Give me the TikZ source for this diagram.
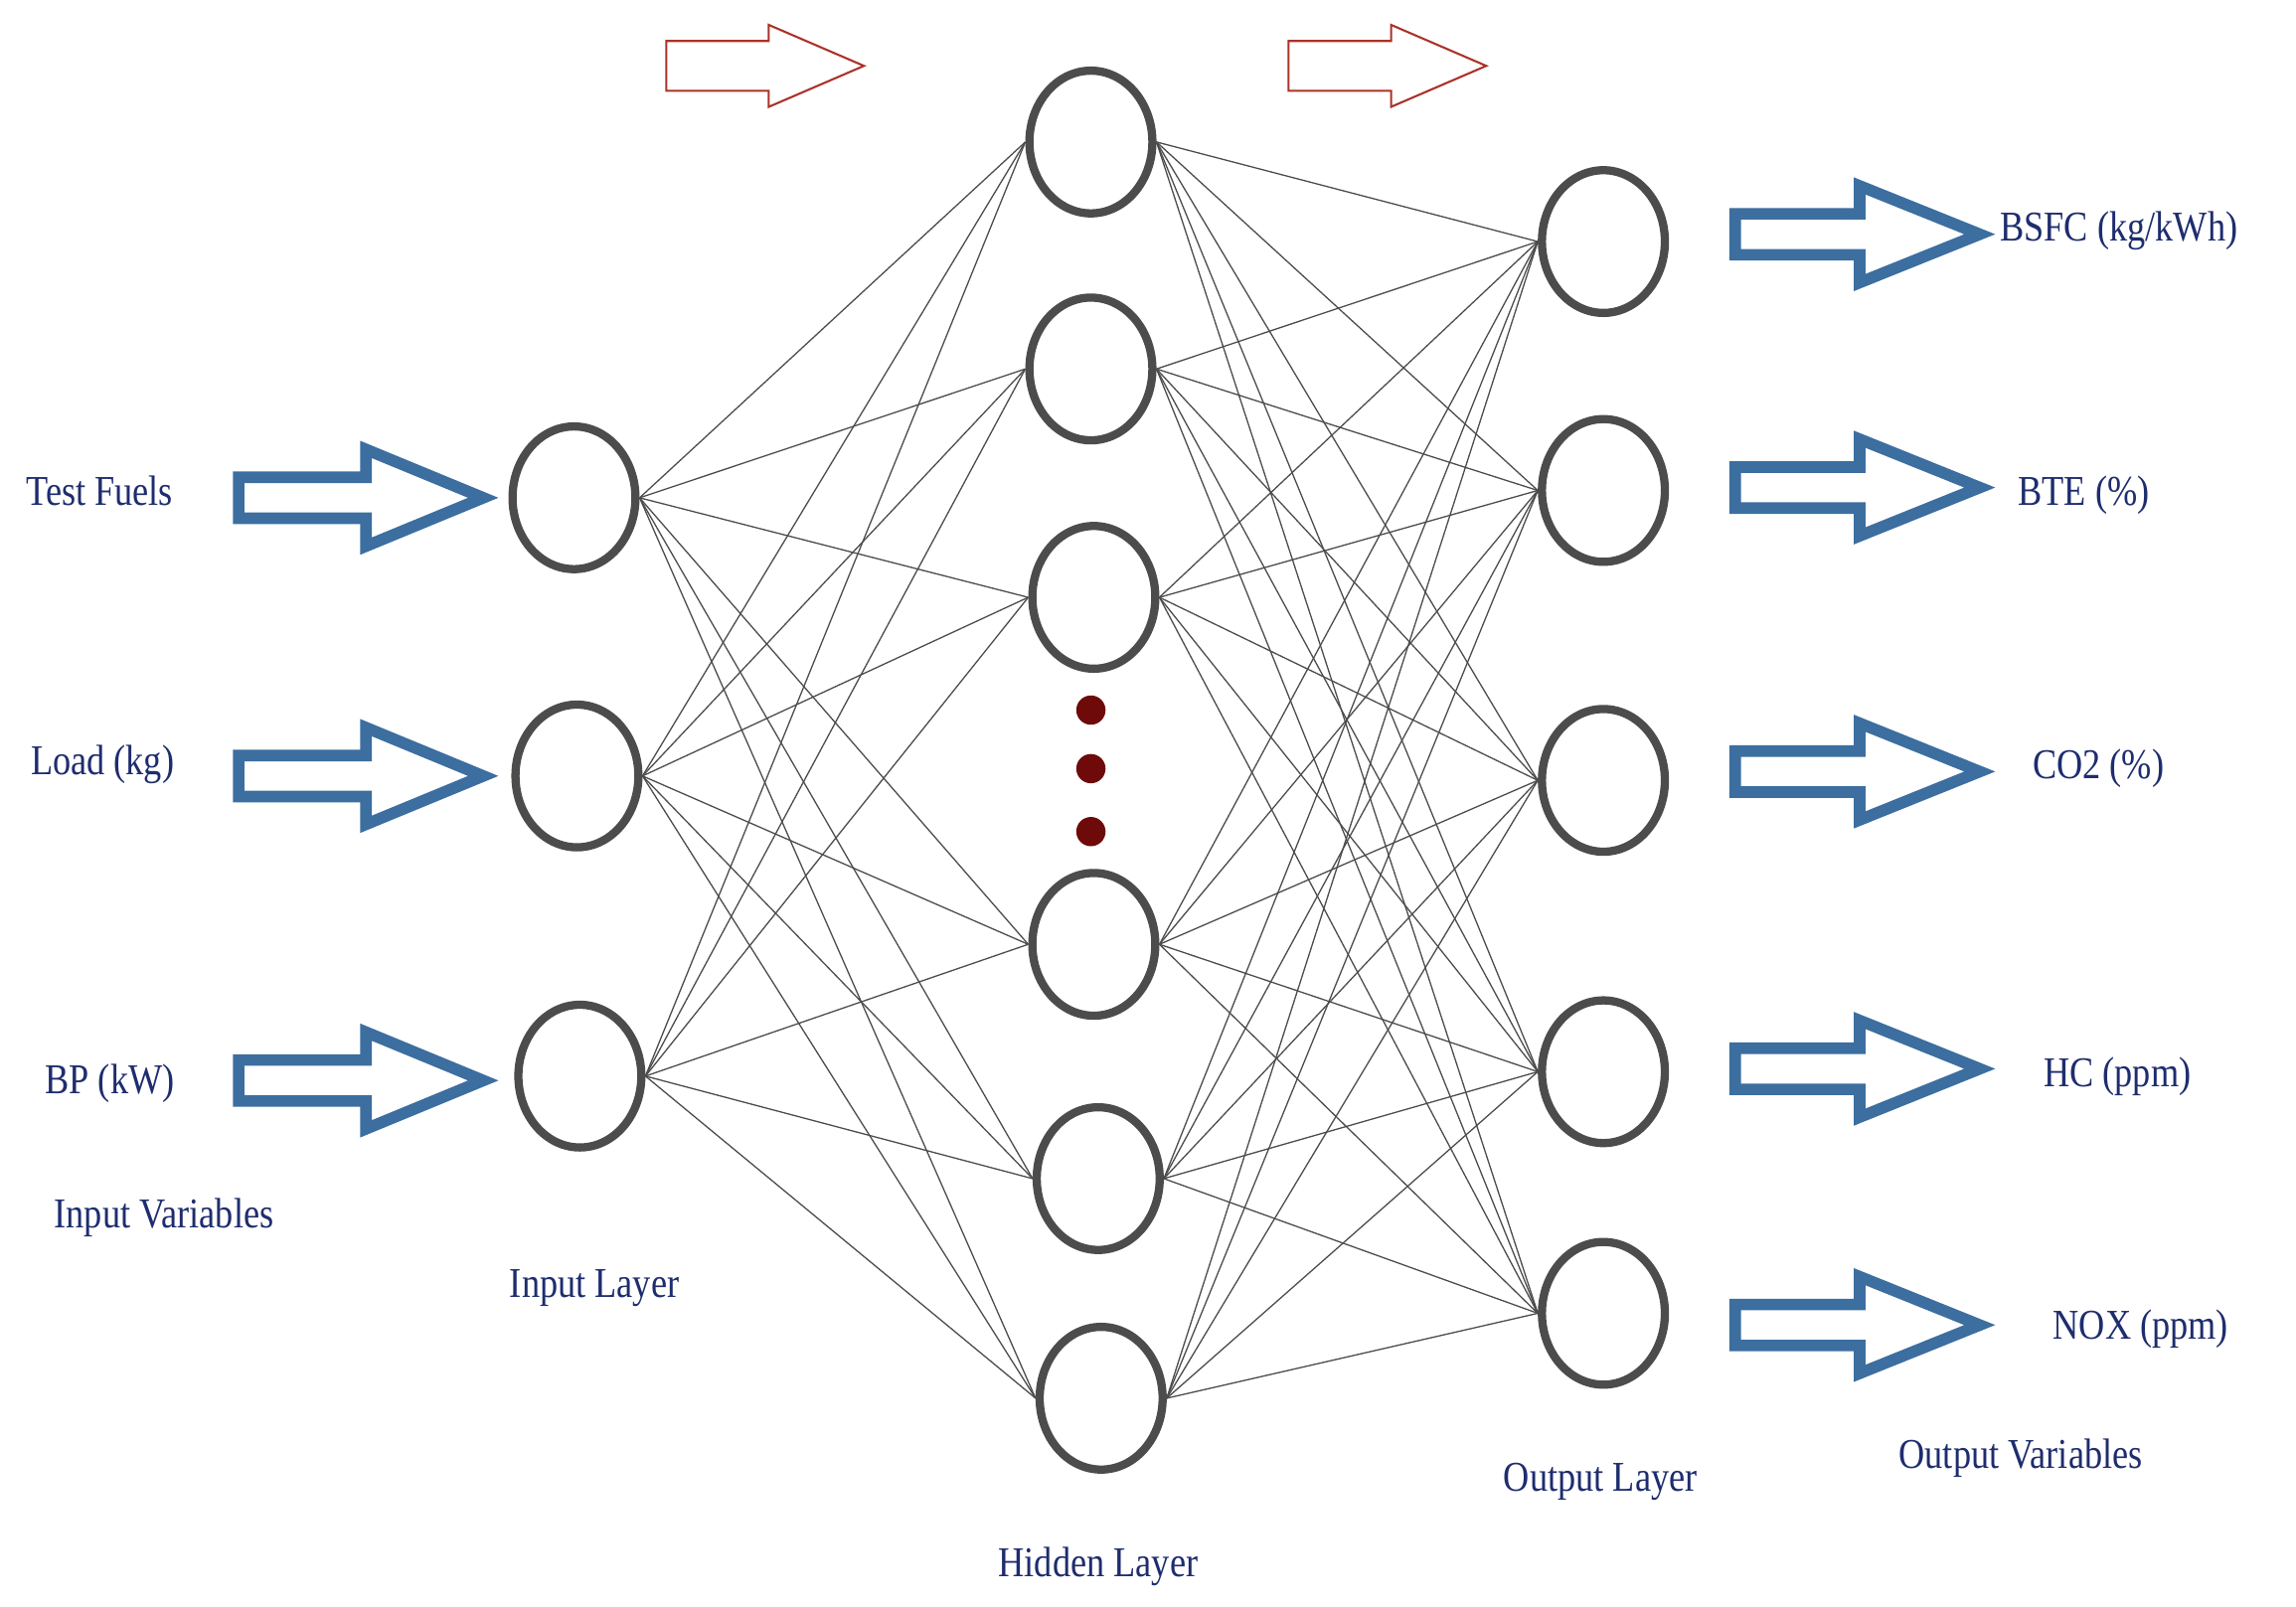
\documentclass[tikz,border=0pt]{standalone}
\usepackage{fontspec}
\setmainfont{Liberation Serif}
\usetikzlibrary{shapes.geometric}
\definecolor{navy}{RGB}{30,45,110}
\definecolor{ablue}{RGB}{60,110,160}
\definecolor{ared}{RGB}{170,50,40}
\definecolor{dred}{RGB}{110,10,10}
\newcommand\barr[7]{%
  \draw[#7] (#1,#3-#4) -- (#6,#3-#4) -- (#6,#3-#5) -- (#2,#3) -- (#6,#3+#5) -- (#6,#3+#4) -- (#1,#3+#4) -- cycle;}
\begin{document}
\begin{tikzpicture}[x=0.02cm,y=-0.02cm,
  neu/.style={ellipse,draw=black!70,line width=3.2pt,minimum width=1.68cm,minimum height=1.95cm,inner sep=0},
  lab/.style={text=navy,font=\fontsize{16.5}{18}\selectfont,xscale=0.85},
  ed/.style={draw=black!70,line width=0.5pt}]
\useasboundingbox (0,0) rectangle (1568,1097);
\node[neu] (i1) at (392,340) {};
\node[neu] (i2) at (394,530) {};
\node[neu] (i3) at (396,735) {};
\node[neu] (h1) at (745,97) {};
\node[neu] (h2) at (745,252) {};
\node[neu] (h3) at (747,408) {};
\node[neu] (h4) at (747,645) {};
\node[neu] (h5) at (750,805) {};
\node[neu] (h6) at (752,955) {};
\node[neu] (o1) at (1095,165) {};
\node[neu] (o2) at (1095,335) {};
\node[neu] (o3) at (1095,533) {};
\node[neu] (o4) at (1095,732) {};
\node[neu] (o5) at (1095,897) {};
\foreach \a in {i1,i2,i3}\foreach \b in {h1,h2,h3,h4,h5,h6} \draw[ed] (\a.east) -- (\b.west);
\foreach \a in {h1,h2,h3,h4,h5,h6}\foreach \b in {o1,o2,o3,o4,o5} \draw[ed] (\a.east) -- (\b.west);
\foreach \y in {485,525,568} \fill[dred] (745,\y) circle (10);
\foreach \y in {340,530,738} \barr{163}{330}{\y}{14}{33}{250}{draw=ablue,line width=4.5pt};
\foreach \y in {160,333,527,730,905} \barr{1185}{1352}{\y}{14}{33}{1270}{draw=ablue,line width=4.5pt};
\barr{455}{590}{45}{17}{28}{525}{draw=ared,line width=0.8pt};
\barr{880}{1015}{45}{17}{28}{950}{draw=ared,line width=0.8pt};
\node[lab] (t1) at (68,335) {Test Fuels};
\node[lab] (t2) at (70,522) {Load (kg)};
\node[lab] (t3) at (75,740) {BP (kW)};
\node[lab] (t4) at (112,832) {Input Variables};
\node[lab] (t5) at (406,880) {Input Layer};
\node[lab] (t6) at (750,1070) {Hidden Layer};
\node[lab] (t7) at (1093,1012) {Output Layer};
\node[lab] (t8) at (1380,996) {Output Variables};
\node[lab] (t9) at (1447,158) {BSFC (kg/kWh)};
\node[lab] (t10) at (1423,338) {BTE (\%)};
\node[lab] (t11) at (1433,525) {CO2 (\%)};
\node[lab] (t12) at (1446,735) {HC (ppm)};
\node[lab] (t13) at (1462,908) {NOX (ppm)};
\end{tikzpicture}
\end{document}
